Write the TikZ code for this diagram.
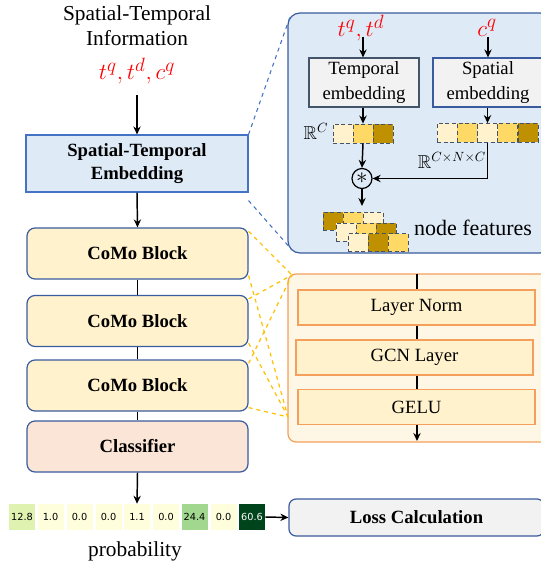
\documentclass[tikz,border=0pt]{standalone}
\usepackage{amssymb}
\usepackage{fontspec}
\setmainfont{Liberation Serif}
\newfontfamily\dejavu{DejaVu Sans}
\usetikzlibrary{arrows.meta,calc}
\definecolor{stfill}{HTML}{DEEBF7}
\definecolor{stdraw}{HTML}{4472C4}
\definecolor{bdraw}{HTML}{3A5C9E}
\definecolor{yfill}{HTML}{FFF2CC}
\definecolor{clsfill}{HTML}{FBE5D6}
\definecolor{gfill}{HTML}{F2F2F2}
\definecolor{edraw}{HTML}{44546A}
\definecolor{cLight}{HTML}{FFF2CC}
\definecolor{cGold}{HTML}{FFD966}
\definecolor{cDark}{HTML}{BF9000}
\definecolor{ofill}{HTML}{FEF7E6}
\definecolor{odraw}{HTML}{F4A05C}
\definecolor{ydash}{HTML}{FFC000}
\definecolor{pA}{HTML}{DFF2AF}
\definecolor{pB}{HTML}{FEFEDD}
\definecolor{pC}{HTML}{A2D78F}
\definecolor{pD}{HTML}{00441B}
\newcommand\fsBig{\fontsize{16}{19}\selectfont}
\newcommand\fsMid{\fontsize{14}{17}\selectfont}
\newcommand\fsSm{\fontsize{7.3}{8}\selectfont}
\begin{document}
\begin{tikzpicture}[x=0.75pt,y=-0.75pt,
  arr/.style={-{Stealth[length=6pt,width=5.5pt]},line width=1.1pt},
  ln/.style={line width=0.9pt},
  stbox/.style={draw=stdraw,fill=stfill,line width=0.8pt,minimum width=222*0.75pt,minimum height=57*0.75pt,align=center,font=\fsMid\bfseries},
  blk/.style={draw=bdraw,fill=yfill,line width=0.9pt,rounded corners=8*0.75pt,minimum width=221*0.75pt,minimum height=51*0.75pt,font=\fsMid\bfseries},
  embox/.style={draw=edraw,fill=gfill,line width=0.8pt,minimum width=110*0.75pt,minimum height=49*0.75pt,align=center,font=\fontsize{14}{18.5}\selectfont,inner sep=0pt},
  vcell/.style={draw=edraw,densely dashed,line width=0.6pt,minimum width=20*0.75pt,minimum height=19*0.75pt,inner sep=0pt},
  fcell/.style={draw=edraw,densely dashed,line width=0.6pt,minimum width=20*0.75pt,minimum height=18*0.75pt,inner sep=0pt},
  pcell/.style={minimum width=26*0.75pt,minimum height=26*0.75pt,inner sep=0pt,font=\dejavu\fsSm},
  obox/.style={draw=odraw,fill=yfill,line width=1.2pt,minimum width=237*0.75pt,minimum height=35*0.75pt,font=\fsMid},
  bdash/.style={draw=stdraw,dashed,line width=0.8pt},
  ydsh/.style={draw=ydash,dashed,line width=0.9pt},
  redm/.style={font=\fontsize{19}{22}\selectfont,text=red}
]
\useasboundingbox (0,0) rectangle (540,573);

% ---- left column ----
\node[font=\fsBig,align=center] (info) at (137,26) {Spatial-Temporal\\Information};
\node[redm] (inp) at (137,71) {$t^q,t^d,c^q$};
\coordinate (inpend) at (137,95);
\node[stbox] (st) at (137,163.5) {Spatial-Temporal\\Embedding};
\node[blk] (b1) at (137.5,253.5) {CoMo Block};
\node[blk] (b2) at (137.5,321) {CoMo Block};
\node[blk] (b3) at (137.5,385.5) {CoMo Block};
\node[blk,fill=clsfill] (cls) at (137.5,446.5) {Classifier};

\draw[arr] (inpend) -- (st.north);
\draw[arr] (st.south) -- (b1.north);
\draw[ln] (b1.south) -- (b2.north);
\draw[ln] (b2.south) -- (b3.north);
\draw[ln] (b3.south) -- (cls.north);

% probability cells
\node[pcell,fill=pA] (p1) at (22,517) {12.8};
\node[pcell,fill=pB] (p2) at (50.5,517) {1.0};
\node[pcell,fill=pB] (p3) at (79.5,517) {0.0};
\node[pcell,fill=pB] (p4) at (108.5,517) {0.0};
\node[pcell,fill=pB] (p5) at (137,517) {1.1};
\node[pcell,fill=pB] (p6) at (166,517) {0.0};
\node[pcell,fill=pC] (p7) at (194.5,517) {24.4};
\node[pcell,fill=pB] (p8) at (223.5,517) {0.0};
\node[pcell,fill=pD,text=white] (p9) at (252,517) {60.6};
\node[font=\fsBig] (prob) at (135,551) {probability};
\draw[arr] (cls.south) -- (p5.north);

\node[draw=bdraw,fill=gfill,line width=0.9pt,rounded corners=7*0.75pt,minimum width=255*0.75pt,minimum height=37*0.75pt,font=\fsMid\bfseries] (loss) at (416.5,517.5) {Loss Calculation};
\draw[arr] (p9.east) -- (loss.west);

% ---- top right panel ----
\node[draw=bdraw,fill=stfill,line width=0.9pt,rounded corners=12*0.75pt,minimum width=264*0.75pt,minimum height=240*0.75pt,inner sep=0pt] (tp) at (420,133) {};
\coordinate (tpa) at (291,14);
\coordinate (tpb) at (292,250);
\draw[bdash] (st.north east) -- (tpa);
\draw[bdash] ($(st.south east)+(0,8)$) -- (tpb);

\node[redm] (tin) at (361,28) {$t^q,t^d$};
\node[redm] (cin) at (487,28) {$c^q$};
\coordinate (tinend) at (363,37);
\coordinate (cinend) at (488,37);
\node[embox] (te) at (364,82.5) {Temporal\\embedding};
\node[embox,draw=bdraw] (se) at (488,82.5) {Spatial\\embedding};
\draw[arr] (tinend) -- (te.north -| tinend);
\draw[arr] (cinend) -- (se.north -| cinend);

\node[vcell,fill=cLight] (t1) at (343,133.5) {};
\node[vcell,fill=cGold] (t2) at (363,133.5) {};
\node[vcell,fill=cDark] (t3) at (383,133.5) {};
\node[font=\fsMid] (rc) at (316,131) {$\mathbb{R}^C$};
\draw[arr] (te.south -| t2) -- (t2.north);

\node[vcell,fill=cLight] (s1) at (447,133) {};
\node[vcell,fill=cGold] (s2) at (467,133) {};
\node[vcell,fill=cLight] (s3) at (487.5,133) {};
\node[vcell,fill=cGold] (s4) at (507.5,133) {};
\node[vcell,fill=cDark] (s5) at (528,133) {};
\draw[arr] (se.south -| s3) -- (s3.north);

\node[draw,circle,line width=0.9pt,minimum size=20*0.75pt,inner sep=0pt,font=\fontsize{16}{16}\selectfont] (mul) at (362,178.5) {$\ast$};
\node[font=\fsMid] (rcnc) at (452,160) {$\mathbb{R}^{C\times N\times C}$};
\draw[arr] (t2.south) -- (mul.north);
\draw[arr] (s3.south) |- (mul.east);
\coordinate (mulend) at (362,206);
\draw[arr] (mul.south) -- (mulend);

% node features
\node[fcell,fill=cDark] (f11) at (333,221) {};
\node[fcell,fill=cGold] (f12) at (353,221) {};
\node[fcell,fill=cLight] (f13) at (373,221) {};
\node[fcell,fill=cLight] (f21) at (346,232) {};
\node[fcell,fill=cGold] (f22) at (366,232) {};
\node[fcell,fill=cDark] (f23) at (386,232) {};
\node[fcell,fill=cLight] (f31) at (358,242.5) {};
\node[fcell,fill=cDark] (f32) at (378,242.5) {};
\node[fcell,fill=cGold] (f33) at (398,242.5) {};
\node[font=\fontsize{16.5}{19}\selectfont] (nf) at (473,228) {node features};

% ---- bottom right panel ----
\node[draw=odraw,fill=ofill,line width=0.9pt,rounded corners=8*0.75pt,minimum width=264*0.75pt,minimum height=168*0.75pt,inner sep=0pt] (bp) at (420,358) {};
\node[obox] (lnorm) at (416.5,307.5) {Layer Norm};
\node[obox] (gcn) at (414.5,357.5) {GCN Layer};
\node[obox] (gelu) at (416.5,407) {GELU};
\coordinate (bptop) at (417,274);
\coordinate (bpbot) at (417,441);
\draw[ln] (bptop) -- (lnorm.north -| bptop);
\draw[ln] (lnorm.south -| bptop) -- (gcn.north -| bptop);
\draw[ln] (gcn.south -| bptop) -- (gelu.north -| bptop);
\draw[arr] (gelu.south -| bptop) -- (bpbot);

\coordinate (pa) at (292,275);
\coordinate (pb) at (288,417);
\foreach \b in {b1,b2,b3}{
  \draw[ydsh] ($(\b.north east)+(0,4)$) -- (pa);
  \draw[ydsh] ($(\b.south east)+(0,-4)$) -- (pb);
}
\end{tikzpicture}
\end{document}
